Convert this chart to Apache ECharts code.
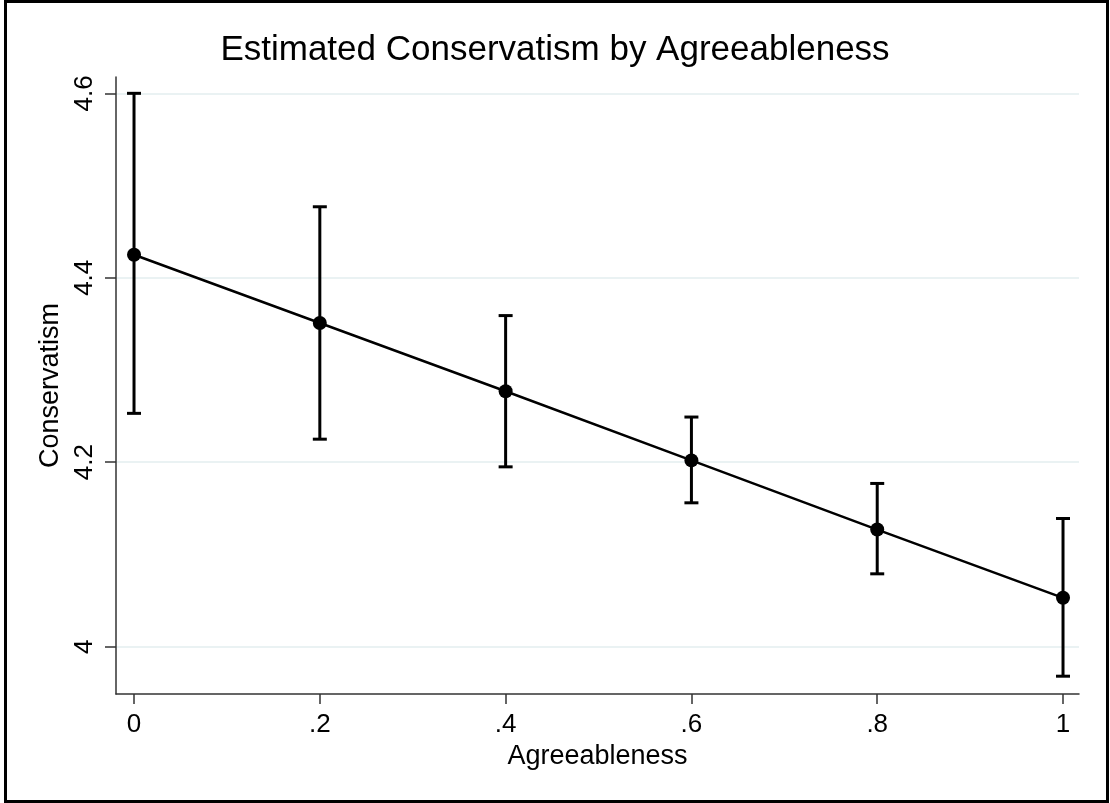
<!DOCTYPE html>
<html>
<head>
<meta charset="utf-8">
<title>Estimated Conservatism by Agreeableness</title>
<script src="https://cdn.jsdelivr.net/npm/echarts@6/dist/echarts.min.js"></script>
<style>
  html, body { margin: 0; padding: 0; background: #ffffff; }
  #chart { width: 1110px; height: 803px; }
</style>
</head>
<body>
<div id="chart"></div>
<script>
// Agreeableness levels and the estimated conservatism at each level
const agreeableness = [0, 0.2, 0.4, 0.6, 0.8, 1];
const estimate = [4.425, 4.351, 4.277, 4.202, 4.127, 4.053];
// 95% confidence bounds
const ciLower = [4.253, 4.225, 4.195, 4.156, 4.079, 3.968];
const ciUpper = [4.600, 4.477, 4.359, 4.249, 4.177, 4.139];
// Axis tick positions
const xTicks = [0, 0.2, 0.4, 0.6, 0.8, 1];
const yTicks = [4, 4.2, 4.4, 4.6];

const FONT = '"Liberation Sans", Arial, sans-serif';

const meanData = agreeableness.map((x, i) => [x, estimate[i]]);
const ciData = agreeableness.map((x, i) => [x, ciLower[i], ciUpper[i]]);

function fmtX(v) {
  const s = String(Math.round(v * 10) / 10);
  return s.startsWith('0.') ? s.slice(1) : s;
}

const chart = echarts.init(document.getElementById('chart'), null, { renderer: 'canvas' });

chart.setOption({
  backgroundColor: '#ffffff',
  animation: false,
  title: {
    text: 'Estimated Conservatism by Agreeableness',
    left: 'center',
    top: 28,
    textStyle: { fontFamily: FONT, fontSize: 35, fontWeight: 'normal', color: '#000000' }
  },
  graphic: [{
    type: 'rect',
    shape: { x: 5.5, y: 1.5, width: 1102, height: 800 },
    style: { fill: 'none', stroke: '#000000', lineWidth: 3 },
    silent: true
  }],
  grid: { left: 116, right: 31, top: 77, bottom: 109, containLabel: false },
  xAxis: {
    type: 'value',
    min: -0.0194,
    max: 1.0172,
    name: 'Agreeableness',
    nameLocation: 'middle',
    nameGap: 46,
    nameTextStyle: { fontFamily: FONT, fontSize: 27, color: '#000000' },
    axisLine: { show: true, onZero: false, lineStyle: { color: '#333333', width: 1.5 } },
    axisTick: { show: true, length: 10, customValues: xTicks, lineStyle: { color: '#333333', width: 1.5 } },
    axisLabel: {
      customValues: xTicks,
      formatter: fmtX,
      margin: 18,
      fontFamily: FONT, fontSize: 26, color: '#000000'
    },
    splitLine: { show: false }
  },
  yAxis: {
    type: 'value',
    min: 3.9487,
    max: 4.6177,
    name: 'Conservatism',
    nameLocation: 'middle',
    nameGap: 51,
    nameTextStyle: { fontFamily: FONT, fontSize: 27, color: '#000000' },
    axisLine: { show: true, onZero: false, lineStyle: { color: '#333333', width: 1.5 } },
    axisTick: { show: true, length: 11, customValues: yTicks, lineStyle: { color: '#333333', width: 1.5 } },
    axisLabel: {
      customValues: yTicks,
      rotate: 90,
      margin: 18,
      formatter: v => String(Math.round(v * 10) / 10),
      fontFamily: FONT, fontSize: 26, color: '#000000'
    },
    splitLine: { show: true, lineStyle: { color: '#eaf2f3', width: 2 } }
  },
  series: [
    {
      name: 'CI',
      type: 'custom',
      data: ciData,
      z: 2,
      clip: false,
      renderItem: function (params, api) {
        const x = api.value(0);
        const lo = api.coord([x, api.value(1)]);
        const hi = api.coord([x, api.value(2)]);
        const half = 7;
        const style = { stroke: '#000000', lineWidth: 3, fill: 'none' };
        return {
          type: 'group',
          children: [
            { type: 'line', shape: { x1: lo[0], y1: lo[1], x2: hi[0], y2: hi[1] }, style: style },
            { type: 'line', shape: { x1: lo[0] - half, y1: lo[1], x2: lo[0] + half, y2: lo[1] }, style: style },
            { type: 'line', shape: { x1: hi[0] - half, y1: hi[1], x2: hi[0] + half, y2: hi[1] }, style: style }
          ]
        };
      }
    },
    {
      name: 'Estimate',
      type: 'line',
      data: meanData,
      z: 3,
      symbol: 'circle',
      symbolSize: 14,
      lineStyle: { color: '#000000', width: 2.5 },
      itemStyle: { color: '#000000' }
    }
  ]
});
</script>
</body>
</html>
